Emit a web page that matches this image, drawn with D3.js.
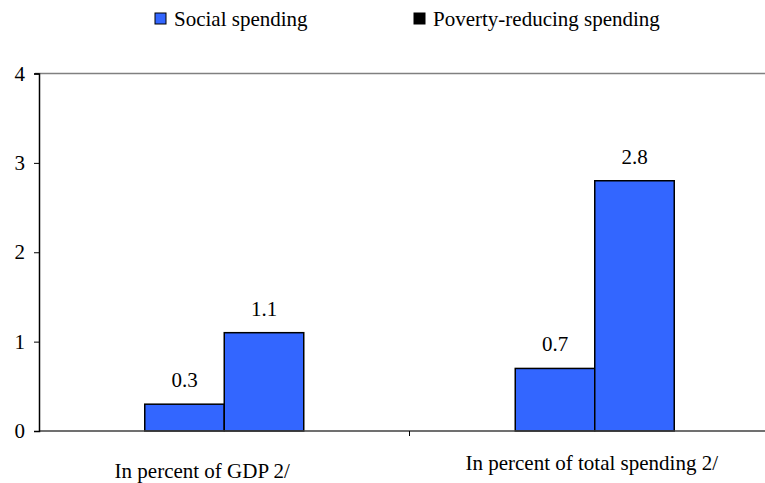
<!DOCTYPE html>
<html><head><meta charset="utf-8">
<script src="https://cdn.jsdelivr.net/npm/d3@7"></script>
<style>body{margin:0;background:#fff}svg{display:block}</style>
</head><body><svg id="c" width="765" height="483"></svg>
<script>
const categories = ["In percent of GDP 2/", "In percent of total spending 2/"];
const seriesNames = ["Social spending", "Poverty-reducing spending"];
const socialValues = [0.3, 0.7];
const povertyValues = [1.1, 2.8];
const yTicks = [0, 1, 2, 3, 4];

(function () {
const FONT = "'Liberation Serif', 'DejaVu Serif', 'Times New Roman', Times, serif";
const FS = 21;
const svg = d3.select("#c");
const mLeft = 39, mRight = 780, mTop = 73.5, mBottom = 431;
const x = d3.scaleBand().domain(categories).range([mLeft, mRight]);
const y = d3.scaleLinear().domain([0, 4]).range([mBottom, mTop]);
const barW = 79.5;
const inner = d3.scaleBand().domain([0, 1]).range([-barW, barW]);

function txt(sel) { return sel.style("font-family", FONT).style("font-size", FS + "px").attr("fill", "#000"); }

// top border line
svg.append("line").attr("x1", 35).attr("x2", 765).attr("y1", y(4)).attr("y2", y(4))
  .attr("stroke", "#808080").attr("stroke-width", 1.5);

// bars
const series = [socialValues, povertyValues];
const colors = ["#3366FF", "#3366FF"];
categories.forEach((c, i) => {
  const cx = x(c) + x.bandwidth() / 2;
  series.forEach((vals, s) => {
    const v = vals[i];
    const bx = cx + inner(s);
    svg.append("rect").attr("x", bx).attr("y", y(v)).attr("width", inner.bandwidth()).attr("height", y(0) - y(v))
      .attr("fill", colors[s]).attr("stroke", "#000").attr("stroke-width", 1.5);
    txt(svg.append("text").attr("x", bx + inner.bandwidth() / 2).attr("y", y(v) - 17)
      .attr("text-anchor", "middle")).text(v.toFixed(1));
  });
});

// x axis
svg.append("line").attr("x1", mLeft).attr("x2", 765).attr("y1", y(0)).attr("y2", y(0))
  .attr("stroke", "#404040").attr("stroke-width", 1.5);
svg.append("line").attr("x1", x(categories[1])).attr("x2", x(categories[1])).attr("y1", y(0)).attr("y2", y(0) + 5)
  .attr("stroke", "#000").attr("stroke-width", 1);
const catY = [478, 470];
const catDx = [-22, -3];
categories.forEach((c, i) => {
  txt(svg.append("text").attr("x", x(c) + x.bandwidth() / 2 + catDx[i]).attr("y", catY[i])
    .attr("text-anchor", "middle")).text(c);
});

// y axis
const yAxis = d3.axisLeft(y).tickValues(yTicks).tickFormat(d3.format("d")).tickSize(5).tickPadding(9);
const ga = svg.append("g").attr("transform", `translate(${mLeft},0)`).call(yAxis);
ga.attr("font-family", null).attr("font-size", null);
ga.select(".domain").attr("stroke", "#000").attr("stroke-width", 1.5);
ga.selectAll(".tick line").attr("stroke", "#000");
txt(ga.selectAll(".tick text"));

// legend
const legX = [155, 414];
seriesNames.forEach((n, i) => {
  svg.append("rect").attr("x", legX[i]).attr("y", 13).attr("width", 11).attr("height", 11)
    .attr("fill", i === 0 ? "#3366FF" : "#000").attr("stroke", "#000").attr("stroke-width", 1);
  txt(svg.append("text").attr("x", legX[i] + 19).attr("y", 26)).text(n);
});
})();
</script></body></html>
